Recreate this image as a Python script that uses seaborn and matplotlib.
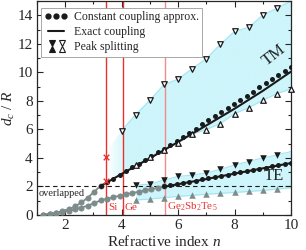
import numpy as np
import pandas as pd
import matplotlib
matplotlib.use('Agg')
import matplotlib.pyplot as plt
import seaborn as sns
from matplotlib.lines import Line2D
from matplotlib.legend_handler import HandlerBase
from matplotlib.patches import PathPatch
from matplotlib.ticker import MultipleLocator

# ---------------- data ----------------
# overlapped (d/R < 2) parts, grey
n_ov_tm = [1.225, 1.45, 1.675, 1.9, 2.125, 2.35, 2.575, 2.8, 3.025, 3.25]
d_ov_tm = [0.03, 0.08, 0.15, 0.25, 0.40, 0.60, 0.88, 1.22, 1.62, 2.05]
n_ov_te = [1.225, 1.45, 1.675, 1.9, 2.125, 2.35, 2.575, 2.8, 3.025, 3.25,
           3.475, 3.7, 3.925, 4.15, 4.375, 4.6, 4.825, 5.05, 5.275, 5.5]
d_ov_te = [0.03, 0.08, 0.14, 0.21, 0.30, 0.40, 0.52, 0.66, 0.84, 1.02,
           1.14, 1.25, 1.35, 1.45, 1.54, 1.63, 1.72, 1.81, 1.90, 2.00]

# constant coupling approximation (dots)
n_tm_const = [3.25, 3.475, 3.7, 3.925, 4.15, 4.375, 4.6, 4.825, 5.05, 5.275,
              5.5, 5.725, 5.95, 6.175, 6.4, 6.625, 6.85, 7.075, 7.3, 7.525,
              7.75, 7.975, 8.2, 8.425, 8.65, 8.875, 9.1, 9.325, 9.55, 9.775, 10.0]
d_tm_const = [2.05, 2.30, 2.55, 2.82, 3.08, 3.34, 3.60, 3.86, 4.12, 4.39,
              4.66, 4.94, 5.22, 5.50, 5.78, 6.06, 6.35, 6.63, 6.92, 7.20,
              7.49, 7.78, 8.07, 8.36, 8.65, 8.94, 9.23, 9.52, 9.81, 10.10, 10.40]
n_te_const = [5.5, 5.725, 5.95, 6.175, 6.4, 6.625, 6.85, 7.075, 7.3, 7.525,
              7.75, 7.975, 8.2, 8.425, 8.65, 8.875, 9.1, 9.325, 9.55, 9.775, 10.0]
d_te_const = [2.00, 2.08, 2.16, 2.24, 2.32, 2.41, 2.49, 2.57, 2.65, 2.74,
              2.82, 2.91, 2.99, 3.07, 3.16, 3.24, 3.32, 3.41, 3.49, 3.58, 3.66]

# exact coupling (solid lines)
n_tm_exact = [3.25, 4.0, 5.0, 6.0, 7.0, 8.0, 9.0, 10.0]
d_tm_exact = [2.02, 2.88, 3.98, 5.12, 6.28, 7.45, 8.70, 10.05]
n_te_exact = [5.5, 6.0, 7.0, 8.0, 9.0, 10.0]
d_te_exact = [1.98, 2.16, 2.52, 2.90, 3.27, 3.64]

# peak splitting (triangles)
n_tm_hi = [4.0, 4.5, 5.0, 5.5, 6.0, 6.5, 7.0, 7.5, 8.0, 8.5, 9.0, 9.5]
d_tm_hi = [5.92, 7.04, 8.04, 9.15, 9.52, 10.26, 10.96, 11.97, 12.87, 13.15, 14.01, 14.49]
n_tm_lo = [4.5, 5.0, 5.5, 6.0, 6.5, 7.0, 7.5, 8.0, 8.5, 9.0, 9.5, 10.0]
d_tm_lo = [3.49, 4.06, 4.58, 5.05, 5.65, 5.99, 6.41, 7.10, 7.51, 8.03, 8.50, 8.85]
n_te_split = [4.5, 5.0, 5.5, 6.0, 6.5, 7.0, 7.5, 8.0, 8.5, 9.0, 9.5]
d_te_hi = [2.10, 2.16, 2.45, 2.70, 2.80, 2.95, 3.20, 3.50, 3.75, 4.00, 4.20]
d_te_lo = [1.05, 1.12, 1.22, 1.30, 1.38, 1.45, 1.52, 1.58, 1.65, 1.72, 1.82]

# band boundaries beyond the markers
n_tm_band_start = [3.45]
d_tm_band_start_lo = [2.40]
d_tm_band_start_hi = [4.40]
d_tm_band_end_hi = [15.0]
d_te_band_end_hi = [4.45]
d_te_band_end_lo = [1.90]

# silicon points
n_si_pts = [3.45, 3.45]
d_si_pts = [4.10, 2.40]

# materials
mat_names = ['Si', 'Ge', 'Ge$_2$Sb$_2$Te$_5$']
mat_n = [3.45, 4.03, 5.55]
mat_colors = ['#e8322f', '#e8322f', '#f28a8a']

# ---------------- style ----------------
sns.set_theme(style='ticks')
plt.rcParams['font.family'] = ['Liberation Serif', 'DejaVu Serif']
plt.rcParams['mathtext.fontset'] = 'custom'
plt.rcParams['mathtext.rm'] = 'Liberation Serif'
plt.rcParams['mathtext.it'] = 'Liberation Serif:italic'

CYAN = '#cdf5fb'
CYAN_EDGE = '#9fe6f2'
GREY = '#7d8b8b'

fig = plt.figure(figsize=(3.06, 2.5), dpi=100)
ax = fig.add_axes([37/306, 35/250, 254/306, 214/250])

# ---- TM band with fading left edge ----
tm_band_n = n_tm_band_start + [4.0] + n_tm_lo
tm_band_lo = d_tm_band_start_lo + [2.95] + d_tm_lo
tm_band_hi_n = n_tm_band_start + n_tm_hi + [10.0]
tm_band_hi = d_tm_band_start_hi + d_tm_hi + d_tm_band_end_hi
hi_interp = np.interp(tm_band_n, tm_band_hi_n, tm_band_hi)
poly = ax.fill_between(tm_band_n, tm_band_lo, hi_interp, facecolor='none', edgecolor='none')
patch = PathPatch(poly.get_paths()[0], transform=ax.transData, facecolor='none', edgecolor='none')
ax.add_patch(patch)
xs = np.linspace(3.3, 10, 400)
alpha = np.clip((xs - 3.45) / (4.2 - 3.45), 0, 1)
rgb = matplotlib.colors.to_rgb(CYAN)
img = np.zeros((2, xs.size, 4))
img[..., 0], img[..., 1], img[..., 2] = rgb
img[..., 3] = alpha[None, :]
im = ax.imshow(img, extent=[3.3, 10, 0, 15], aspect='auto', origin='lower', zorder=0.5)
im.set_clip_path(patch)

# ---- TE band ----
te_band_n = n_te_split + [10.0]
ax.fill_between(te_band_n, d_te_lo + d_te_band_end_lo, d_te_hi + d_te_band_end_hi,
                color=CYAN, lw=0, zorder=0.5)

# band edge lines
sns.lineplot(x=n_tm_hi + [10.0], y=d_tm_hi + d_tm_band_end_hi, color=CYAN_EDGE, lw=0.8, ax=ax, zorder=1)
sns.lineplot(x=n_tm_lo, y=d_tm_lo, color=CYAN_EDGE, lw=0.8, ax=ax, zorder=1)
sns.lineplot(x=te_band_n, y=d_te_hi + d_te_band_end_hi, color=CYAN_EDGE, lw=0.8, ax=ax, zorder=1)
sns.lineplot(x=te_band_n, y=d_te_lo + d_te_band_end_lo, color=CYAN_EDGE, lw=0.8, ax=ax, zorder=1)

# material lines
for nm, x, c in zip(mat_names, mat_n, mat_colors):
    ax.axvline(x, color=c, lw=1.0, zorder=2)
    ax.text(x + 0.07, 0.55, nm, color='#e8322f', fontsize=8, ha='left', va='center', zorder=6)

# dashed overlap line
ax.axhline(2.0, color='k', lw=0.8, ls=(0, (4, 3)), zorder=2)
ax.text(1.04, 1.5, 'overlapped', fontsize=7.5, ha='left', va='center', zorder=6)

# grey overlapped curves
sns.lineplot(x=n_ov_tm, y=d_ov_tm, color=GREY, lw=1.3, marker='o', markersize=3.6,
             markeredgecolor=GREY, ax=ax, zorder=3)
sns.lineplot(x=n_ov_te, y=d_ov_te, color=GREY, lw=1.3, marker='o', markersize=3.6,
             markeredgecolor=GREY, ax=ax, zorder=3)

# exact coupling lines
sns.lineplot(x=n_tm_exact, y=d_tm_exact, color='k', lw=1.5, ax=ax, zorder=4)
sns.lineplot(x=n_te_exact, y=d_te_exact, color='k', lw=1.5, ax=ax, zorder=4)

# constant coupling dots
sns.scatterplot(x=n_tm_const, y=d_tm_const, color='k', s=13, linewidth=0, ax=ax, zorder=5)
sns.scatterplot(x=n_te_const, y=d_te_const, color='k', s=13, linewidth=0, ax=ax, zorder=5)

# peak splitting triangles
sns.scatterplot(x=n_tm_hi, y=d_tm_hi, marker='v', s=16, facecolor='white', edgecolor='k', linewidth=0.9, ax=ax, zorder=5)
sns.scatterplot(x=n_tm_lo, y=d_tm_lo, marker='^', s=16, facecolor='white', edgecolor='k', linewidth=0.9, ax=ax, zorder=5, clip_on=False)
sns.scatterplot(x=n_te_split, y=d_te_hi, marker='v', s=22, color='k', linewidth=0, ax=ax, zorder=5)
sns.scatterplot(x=n_te_split, y=d_te_lo, marker='^', s=22, color=GREY, linewidth=0, ax=ax, zorder=5)

# silicon crosses
sns.scatterplot(x=n_si_pts, y=d_si_pts, marker='x', s=16, color='#e8322f', linewidth=1.0, ax=ax, zorder=6)

# labels
ax.text(9.4, 11.2, 'TM', fontsize=12, rotation=38, ha='center', va='center', zorder=6)
ax.text(9.4, 2.75, 'TE', fontsize=12, ha='center', va='center', zorder=6)

ax.set_xlim(1, 10)
ax.set_ylim(0, 15)
ax.xaxis.set_major_locator(MultipleLocator(2))
ax.xaxis.set_minor_locator(MultipleLocator(1))
ax.yaxis.set_major_locator(MultipleLocator(2))
ax.yaxis.set_minor_locator(MultipleLocator(1))
ax.tick_params(which='both', direction='in', top=True, right=True, labelsize=11, width=0.8, pad=3)
ax.tick_params(which='major', length=4)
ax.tick_params(which='minor', length=2)
for s in ax.spines.values():
    s.set_linewidth(0.9)
ax.set_xlabel('Refractive index $n$', fontsize=11, labelpad=1)
ax.set_ylabel('$d_c\\ /\\ R$', fontsize=11)
ax.yaxis.set_label_coords(-0.078, 0.5)


class HandlerSplit(HandlerBase):
    def create_artists(self, legend, orig_handle, xdescent, ydescent, width, height, fontsize, trans):
        arts = []
        for fx, face in ((0.35, 'k'), (0.75, 'white')):
            for m, fy in (('v', 0.85), ('^', 0.15)):
                l = Line2D([fx * width - xdescent], [fy * height - ydescent], marker=m,
                           ms=4.5, mfc=face, mec='k', mew=0.8, ls='none', transform=trans)
                arts.append(l)
        return arts


class SplitKey:
    pass


h_const = Line2D([], [], color='k', marker='o', ms=3.5, ls='none')
h_exact = Line2D([], [], color='k', lw=1.5)
h_split = SplitKey()
leg = ax.legend([h_const, h_exact, h_split],
                ['Constant coupling approx.', 'Exact coupling', 'Peak splitting'],
                handler_map={SplitKey: HandlerSplit()},
                loc='upper left', bbox_to_anchor=(0.0, 0.985), fontsize=8.5, numpoints=3,
                handlelength=2.0, handletextpad=0.5, labelspacing=0.25, borderpad=0.3,
                frameon=True, fancybox=False, framealpha=1, edgecolor='#9a9a9a',
                borderaxespad=0.3)
leg.get_frame().set_linewidth(0.6)
leg.set_zorder(10)

fig.savefig('out.png', dpi=100)
